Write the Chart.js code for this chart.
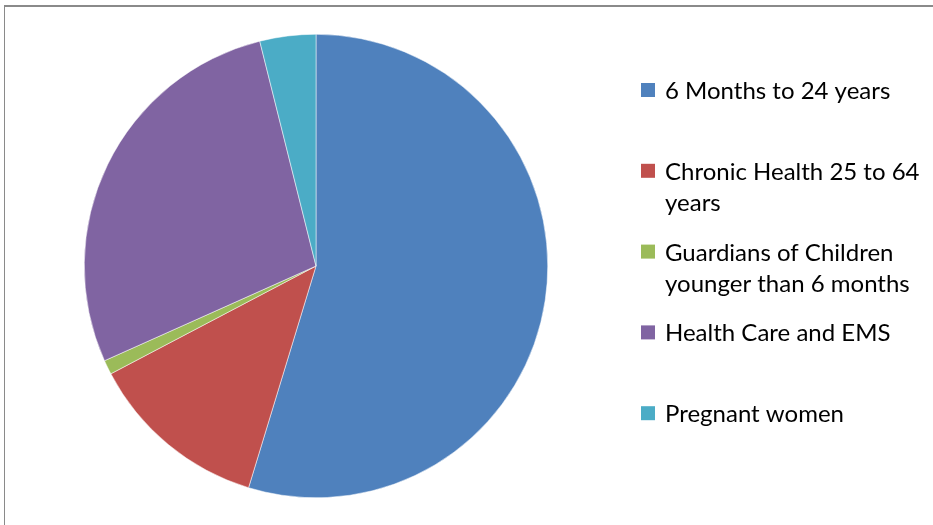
<!DOCTYPE html>
<html>
<head>
<meta charset="utf-8">
<script src="https://cdn.jsdelivr.net/npm/chart.js@4.4.1/dist/chart.umd.min.js"></script>
<style>
  body { margin: 0; background: #fff; overflow: hidden; }
  #frame {
    position: absolute; left: 4px; top: 5px; width: 960px; height: 560px;
    border-top: 2px solid #8a8a8a; border-left: 1px solid #8a8a8a;
  }
  #wrap { position: absolute; left: 0; top: 0; width: 933px; height: 525px; }
</style>
</head>
<body>
<div id="frame"></div>
<div id="wrap"><canvas id="pieChart"></canvas></div>
<script>
// Categories and share of each group (percent)
const categories = [
  "6 Months to 24 years",
  "Chronic Health 25 to 64 years",
  "Guardians of Children younger than 6 months",
  "Health Care and EMS",
  "Pregnant women",
];
const shares = [54.7, 12.6, 1.0, 27.8, 3.9];
const sliceColors = ["#4F81BD", "#C0504D", "#9BBB59", "#8064A2", "#4BACC6"];

// Excel-style legend on the right, drawn on the canvas
const sideLegend = {
  id: "sideLegend",
  afterDraw(chart) {
    const ctx = chart.ctx;
    const boxX = 641, boxSize = 14, textX = 665;
    const firstBaseline = 99, step = 80.8, lineGap = 31.5;
    const maxWidth = chart.width - textX - 6;
    ctx.save();
    ctx.font = "24px Lato";
    ctx.textBaseline = "alphabetic";
    categories.forEach((label, i) => {
      const base = firstBaseline + i * step;
      ctx.fillStyle = sliceColors[i];
      ctx.fillRect(boxX, base - 9 - boxSize / 2, boxSize, boxSize);
      // wrap words into lines that fit
      const words = label.split(" ");
      const lines = [];
      let line = "";
      words.forEach((w) => {
        const test = line ? line + " " + w : w;
        if (line && ctx.measureText(test).width > maxWidth) {
          lines.push(line);
          line = w;
        } else {
          line = test;
        }
      });
      lines.push(line);
      ctx.fillStyle = "#000";
      lines.forEach((l, j) => ctx.fillText(l, textX, base + j * lineGap));
    });
    ctx.restore();
  },
};

const ctx = document.getElementById("pieChart").getContext("2d");
new Chart(ctx, {
  type: "pie",
  data: {
    labels: categories,
    datasets: [
      {
        data: shares,
        backgroundColor: sliceColors,
        borderColor: "#ffffff",
        borderWidth: 0.5,
      },
    ],
  },
  options: {
    responsive: true,
    maintainAspectRatio: false,
    animation: false,
    layout: {
      padding: { left: 84, right: 385, top: 34, bottom: 27 },
    },
    plugins: {
      legend: { display: false },
      tooltip: { enabled: false },
    },
  },
  plugins: [sideLegend],
});
</script>
</body>
</html>
